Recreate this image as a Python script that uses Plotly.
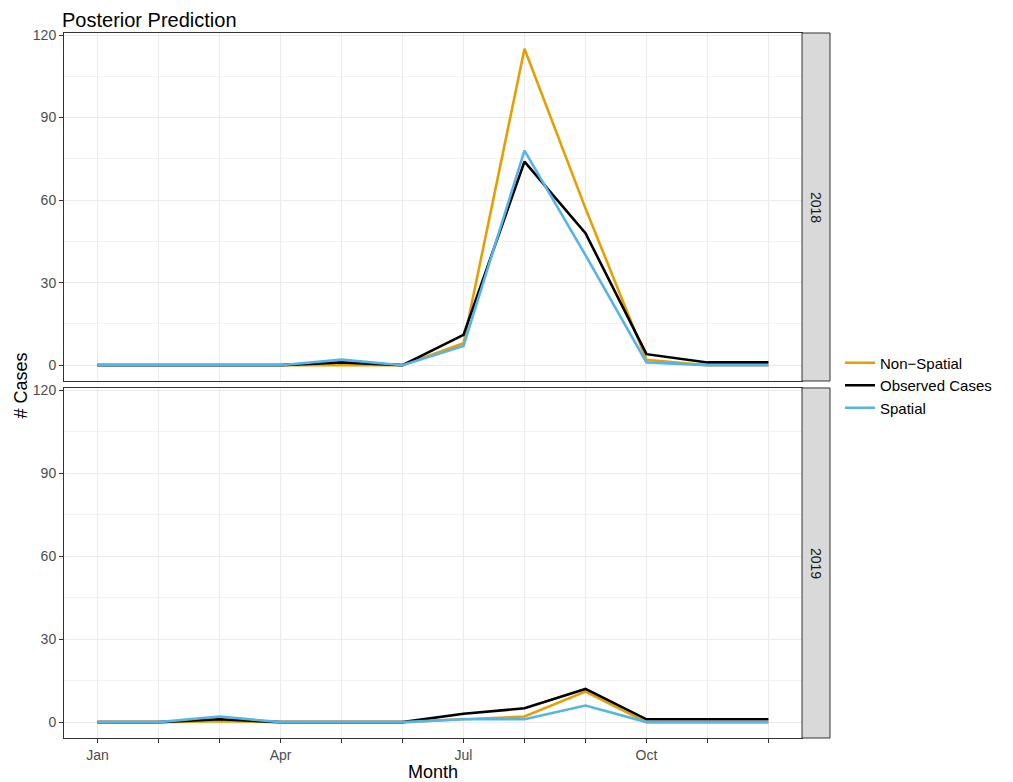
import plotly.graph_objects as go
from plotly.subplots import make_subplots

# ============================================================================
# DONNÉES
# ============================================================================
months = list(range(1, 13))
month_labels = ['Jan', '', '', 'Apr', '', '', 'Jul', '', '', 'Oct', '', '']

observed_2018 = [0, 0, 0, 0, 1, 0, 11, 74, 48, 4, 1, 1]
non_spatial_2018 = [0, 0, 0, 0, 0, 0, 8, 115, 57, 2, 0, 0]
spatial_2018 = [0, 0, 0, 0, 2, 0, 7, 78, 40, 1, 0, 0]

observed_2019 = [0, 0, 1, 0, 0, 0, 3, 5, 12, 1, 1, 1]
non_spatial_2019 = [0, 0, 0.3, 0, 0, 0, 1, 2, 11, 0, 0, 0]
spatial_2019 = [0, 0, 2, 0, 0, 0, 1, 1, 6, 0, 0, 0]

years = ['2018', '2019']
series_names = ['Non\u2212Spatial', 'Observed Cases', 'Spatial']
series_colors = ['#E69F00', '#000000', '#56B4E9']

data = {
    '2018': [non_spatial_2018, observed_2018, spatial_2018],
    '2019': [non_spatial_2019, observed_2019, spatial_2019],
}

FONT = 'Liberation Sans, Arial, sans-serif'
# la page ajoute 8px de marge autour du graphique
W, H = 1005, 774
L, T = 56, 25
PLOT_W = 738

# ============================================================================
# FIGURE
# ============================================================================
fig = make_subplots(rows=2, cols=1, shared_xaxes=True, vertical_spacing=0.0099)

for r, year in enumerate(years, start=1):
    for name, color, values in zip(series_names, series_colors, data[year]):
        fig.add_trace(go.Scatter(
            x=months,
            y=values,
            mode='lines',
            name=name,
            line=dict(color=color, width=2.6),
            showlegend=(r == 1),
            legendgroup=name,
        ), row=r, col=1)

axis_common = dict(
    showline=True, mirror=True, linecolor='#333333', linewidth=1,
    gridcolor='#EBEBEB', gridwidth=1, zeroline=False, automargin=False,
    ticklen=4, tickcolor='#333333',
    tickfont=dict(size=14, color='#4D4D4D', family=FONT),
)

for r in (1, 2):
    fig.update_xaxes(
        range=[0.45, 12.55], tickvals=months, ticktext=month_labels,
        showticklabels=(r == 2), ticks='outside' if r == 2 else '',
        row=r, col=1, **axis_common
    )
    fig.update_yaxes(
        range=[-5.75, 120.75], tickvals=[0, 30, 60, 90, 120], ticks='outside',
        minor=dict(tickvals=[15, 45, 75, 105], showgrid=True, gridcolor='#F2F2F2', gridwidth=0.6),
        row=r, col=1, **axis_common
    )

fig.update_xaxes(title_text='Month', title_font=dict(size=18, color='black', family=FONT),
                 title_standoff=2, row=2, col=1)

fig.update_layout(
    width=W,
    height=H,
    margin=dict(l=L, r=211, t=T, b=44, autoexpand=False),
    plot_bgcolor='white',
    paper_bgcolor='white',
    font=dict(family=FONT, color='black'),
    title=dict(text='Posterior Prediction', x=(L - 2) / W, xanchor='left',
               y=1 - 5 / H, yanchor='top', pad=dict(t=0, b=0, l=0, r=0),
               font=dict(size=20, color='black', family=FONT)),
    legend=dict(x=1.0515, xanchor='left', y=0.5, yanchor='middle',
                font=dict(size=15, color='black', family=FONT),
                tracegroupgap=0, itemwidth=30),
    yaxis=dict(domain=[0.5064, 1]),
    yaxis2=dict(domain=[0, 0.4965]),
)

# Titre axe Y commun
fig.add_annotation(text='# Cases', x=-L / PLOT_W, y=0.5, xref='paper', yref='paper',
                   textangle=-90, showarrow=False, xanchor='left', yanchor='middle',
                   font=dict(size=18, color='black', family=FONT))

# Bandeaux de facettes (strip)
strip_x0 = 1.0
strip_x1 = (830 - 64) / PLOT_W
for year, (y0, y1) in zip(years, [(0.5064, 1), (0, 0.4965)]):
    fig.add_shape(type='rect', xref='paper', yref='paper', x0=strip_x0, x1=strip_x1,
                  y0=y0, y1=y1, fillcolor='#D9D9D9', line=dict(color='#333333', width=1))
    fig.add_annotation(text=year, x=(strip_x0 + strip_x1) / 2, y=(y0 + y1) / 2,
                       xref='paper', yref='paper', textangle=90, showarrow=False,
                       xanchor='center', yanchor='middle',
                       font=dict(size=14, color='#1A1A1A', family=FONT))

fig.write_html("out.html")
